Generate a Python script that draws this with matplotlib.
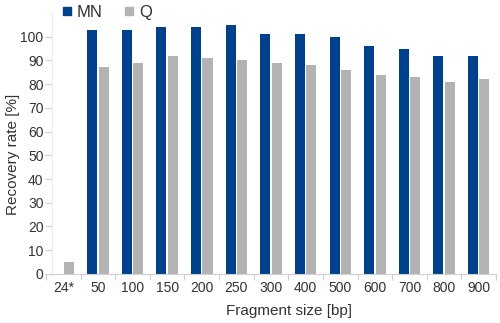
import numpy as np
import matplotlib

matplotlib.use("Agg")
import matplotlib.pyplot as plt
from matplotlib.lines import Line2D

plt.rcParams["font.family"] = ["Liberation Sans", "DejaVu Sans"]

sizes = ["24*", "50", "100", "150", "200", "250", "300", "400", "500", "600", "700", "800", "900"]
mn = [0, 103, 103, 104, 104, 105, 101, 101, 100, 96, 95, 92, 92]
q = [5, 87, 89, 92, 91, 90, 89, 88, 86, 84, 83, 81, 82]

blue = "#00418b"
grey = "#b3b3b3"
text_c = "#333333"
line_c = "#cfcfcf"

fig = plt.figure(figsize=(5, 3.23), dpi=100)
ax = fig.add_axes([0.092, 0.152, 0.9, 0.808])

x = np.arange(len(sizes))
w = 0.29
ax.bar(x - 0.165, mn, width=w, color=blue)
ax.bar(x + 0.165, q, width=w, color=grey)

ax.set_xlim(-0.5, len(sizes) - 0.5)
ax.set_ylim(0, 110)
ax.set_yticks(range(0, 101, 10))
ax.set_xticks(x)
ax.set_xticklabels(sizes)
# category separators on the baseline
ax.set_xticks(np.arange(-0.5, len(sizes), 1.0), minor=True)
ax.tick_params(axis="x", which="major", length=0, pad=5, labelsize=10, labelcolor=text_c)
ax.tick_params(axis="x", which="minor", length=4, color=line_c, width=0.8)
ax.tick_params(axis="y", length=5, color=line_c, width=0.8, labelsize=10, labelcolor=text_c, pad=1)

for s in ["top", "right"]:
    ax.spines[s].set_visible(False)
ax.spines["left"].set_position(("data", -0.33))
ax.spines["left"].set_color("#ececec")
ax.spines["left"].set_linewidth(0.8)
ax.spines["bottom"].set_color(line_c)
ax.spines["bottom"].set_linewidth(0.8)

ax.set_xlabel("Fragment size [bp]", fontsize=11, color=text_c)
ax.xaxis.set_label_coords(0.54, -0.115)
ax.set_ylabel("Recovery rate [%]", fontsize=11, color=text_c)
ax.yaxis.set_label_coords(-0.058, 0.458)

handles = [
    Line2D([], [], marker="s", linestyle="none", markersize=5.5, color=blue, label="MN"),
    Line2D([], [], marker="s", linestyle="none", markersize=5.5, color=grey, label="Q"),
]
fig.legend(handles=handles, loc="center left", bbox_to_anchor=(0.10, 0.962), ncol=2,
           frameon=False, fontsize=12, handletextpad=0.1, columnspacing=1.1,
           labelcolor=text_c, borderpad=0, handlelength=1.0)

fig.savefig("out.png", dpi=100)
